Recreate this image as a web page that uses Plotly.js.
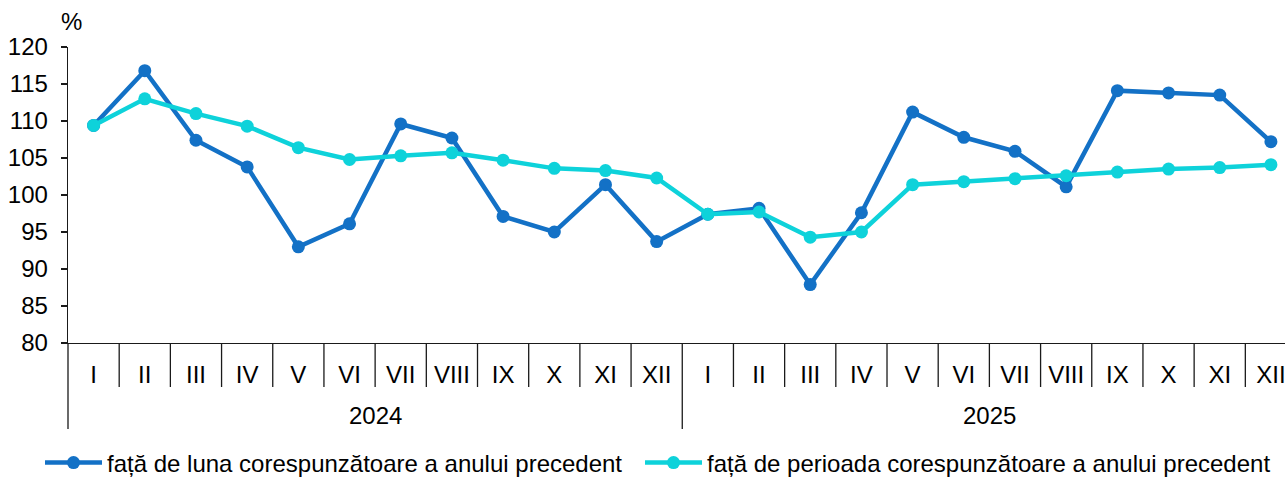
<!DOCTYPE html>
<html>
<head>
<meta charset="utf-8">
<script src="https://cdn.plot.ly/plotly-3.0.1.min.js"></script>
<style>html,body{margin:0;padding:0;background:#fff;}#chart{width:1285px;height:479px;}</style>
</head>
<body>
<div id="chart"></div>
<script>
// ---- data ----
var months = ["I","II","III","IV","V","VI","VII","VIII","IX","X","XI","XII",
              "I","II","III","IV","V","VI","VII","VIII","IX","X","XI","XII"];
var years = ["2024","2025"];
var seriesMonthName = "față de luna corespunzătoare a anului precedent";
var seriesPeriodName = "față de perioada corespunzătoare a anului precedent";
var seriesMonth = [109.4,116.8,107.4,103.8,93.0,96.1,109.6,107.7,97.1,95.0,101.4,93.7,
                   97.4,98.2,87.9,97.6,111.2,107.8,105.9,101.1,114.1,113.8,113.5,107.2];
var seriesPeriod = [109.4,113.0,111.0,109.3,106.4,104.8,105.3,105.7,104.7,103.6,103.3,102.3,
                    97.4,97.7,94.3,95.0,101.4,101.8,102.2,102.6,103.1,103.5,103.7,104.1];
var yTicks = [80,85,90,95,100,105,110,115,120];

// ---- build ----
var idx = months.map(function(_, i){ return i; });
var FONT = 'Liberation Sans, Arial, sans-serif';
var FS = 24;
var C1 = '#1371C6', C2 = '#0ED2DA';

var traces = [
  {x: idx, y: seriesMonth, name: seriesMonthName, type: 'scatter', mode: 'lines+markers',
   line: {color: C1, width: 4.5}, marker: {color: C1, size: 13}, cliponaxis: false, legend: 'legend'},
  {x: idx, y: seriesPeriod, name: seriesPeriodName, type: 'scatter', mode: 'lines+markers',
   line: {color: C2, width: 4.5}, marker: {color: C2, size: 13}, cliponaxis: false, legend: 'legend2'}
];

var shapes = [];
var lineStyle = {color: '#1a1a1a', width: 1.3};
for (var b = 1; b <= months.length; b++) {
  var isYear = (b % 12 === 0);
  shapes.push({type: 'line', xref: 'x', yref: 'paper', ysizemode: 'pixel', yanchor: 0,
               x0: b - 0.5, x1: b - 0.5, y0: 0, y1: isYear ? -86 : -44, line: lineStyle});
}
shapes.push({type: 'line', xref: 'paper', yref: 'paper', ysizemode: 'pixel', yanchor: 0,
             x0: 0, x1: 0, y0: 0, y1: -86, line: lineStyle});

var annotations = years.map(function(yr, i){
  return {text: yr, xref: 'x', yref: 'paper', x: i*12 + 5.5, y: 0, yshift: -72,
          xanchor: 'center', yanchor: 'middle', showarrow: false,
          font: {family: FONT, size: FS, color: '#000'}};
});
annotations.push({text: '%', xref: 'paper', yref: 'paper', x: 0, y: 1, xshift: 3, yshift: 26,
                  xanchor: 'center', yanchor: 'middle', showarrow: false,
                  font: {family: FONT, size: FS, color: '#000'}});

function legendAt(px) {
  return {orientation: 'h', xref: 'container', yref: 'container',
          x: px/1285, xanchor: 'left', y: 16/479, yanchor: 'middle', itemwidth: 57,
          font: {family: FONT, size: FS, color: '#000'}, bgcolor: 'rgba(0,0,0,0)'};
}

var layout = {
  width: 1285, height: 479,
  margin: {l: 68, r: 0, t: 47, b: 136, pad: 0, autoexpand: false},
  paper_bgcolor: '#fff', plot_bgcolor: '#fff',
  font: {family: FONT, size: FS, color: '#000'},
  showlegend: true,
  legend: legendAt(40),
  legend2: legendAt(640),
  xaxis: {range: [-0.5, 23.275], tickmode: 'array', tickvals: idx, ticktext: months,
          ticks: '', showgrid: false, zeroline: false, showline: true, ticklabeloverflow: 'allow',
          linecolor: '#1a1a1a', linewidth: 1.3, ticklabelstandoff: 10,
          tickfont: {family: FONT, size: FS, color: '#000'}, automargin: false, fixedrange: true},
  yaxis: {range: [80, 120], tickmode: 'array', tickvals: yTicks,
          ticks: 'outside', ticklen: 6, tickcolor: '#1a1a1a', tickwidth: 1.3,
          showgrid: false, zeroline: false, showline: true, linecolor: '#1a1a1a', linewidth: 1.3,
          ticklabelstandoff: 8, tickfont: {family: FONT, size: FS, color: '#000'},
          automargin: false, fixedrange: true},
  shapes: shapes,
  annotations: annotations
};

Plotly.newPlot('chart', traces, layout, {staticPlot: true, displayModeBar: false});
</script>
</body>
</html>
